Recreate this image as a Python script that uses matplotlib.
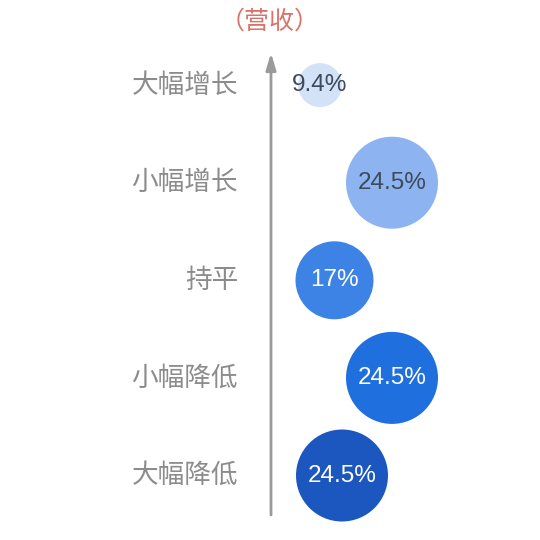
import matplotlib
matplotlib.use("Agg")
import matplotlib.pyplot as plt

# ---- data ----
categories = ["大幅降低", "小幅降低", "持平", "小幅增长", "大幅增长"]
values = [24.5, 24.5, 17, 24.5, 9.4]
value_labels = ["24.5%", "24.5%", "17%", "24.5%", "9.4%"]
axis_title = "（营收）"

# ---- style / layout ----
bubble_x = [342, 392, 334.5, 392, 320]          # horizontal layout (px)
bubble_r = [46, 46, 39, 46, 22]                 # radius (px)
bubble_colors = ["#1b57bf", "#1f6fde", "#3d83e6", "#8db3f1", "#d4e2f7"]
text_colors = ["white", "white", "white", "#3d4a5c", "#3d4a5c"]

W = H = 540
dpi = 100
fig = plt.figure(figsize=(W / dpi, H / dpi), dpi=dpi)
ax = fig.add_axes([0, 0, 1, 1])
ax.set_axis_off()
step = 97.6
y0_from_bottom = 540 - 475.5
ax.set_xlim(0, W)
ax.set_ylim(-y0_from_bottom / step, (H - y0_from_bottom) / step)

ys = list(range(len(categories)))
px2pt = 72 / dpi
sizes = [(2 * r * px2pt) ** 2 for r in bubble_r]
ax.scatter(bubble_x, ys, s=sizes, c=bubble_colors, edgecolors="none", zorder=3)

for x, y, lab, tc in zip(bubble_x, ys, value_labels, text_colors):
    ax.text(x, y, lab, ha="center", va="center", color=tc, fontsize=17.5,
            family=["Liberation Sans", "DejaVu Sans"], zorder=4)

for y, cat in zip(ys, categories):
    ax.text(238, y, cat, ha="right", va="center", color="#8c8c8c", fontsize=19.2,
            fontweight="light", family=["Noto Sans CJK SC", "DejaVu Sans"])

# vertical arrow axis
ax.annotate("", xy=(271, H - 53), xytext=(271, H - 515),
            xycoords="figure pixels", textcoords="figure pixels",
            arrowprops=dict(arrowstyle="-|>,head_length=1.0,head_width=0.3",
                            color="#9a9a9a", lw=2, shrinkA=0, shrinkB=0))

fig.text(270 / W, 1 - 22 / H, axis_title, ha="center", va="center",
         color="#d9736a", fontsize=18, fontweight="light",
         family=["Noto Sans CJK SC", "DejaVu Sans"])

fig.savefig("out.png", dpi=dpi, facecolor="white")
